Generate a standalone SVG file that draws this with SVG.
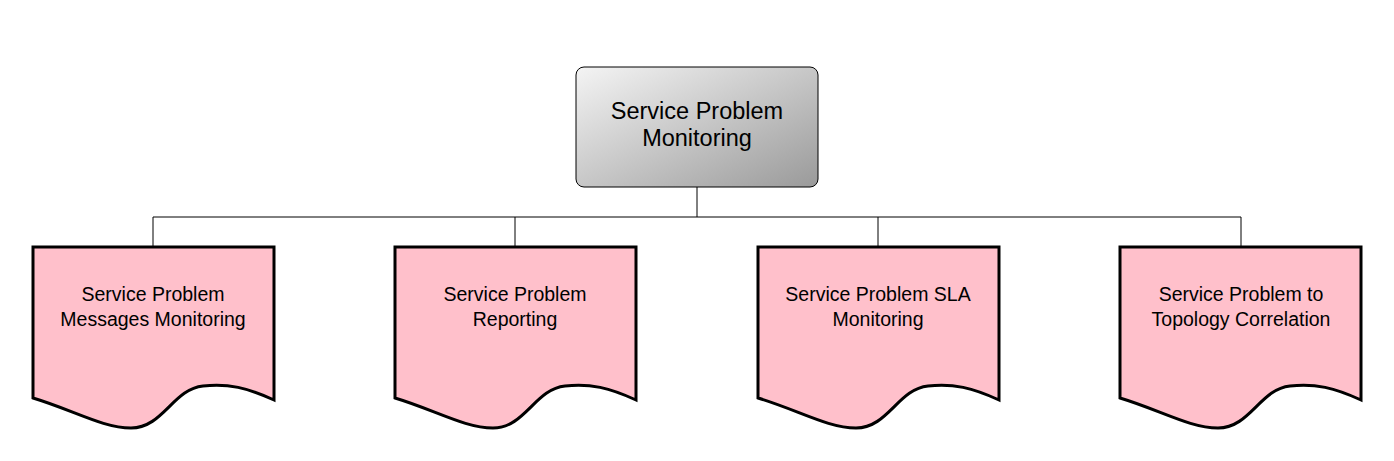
<svg xmlns="http://www.w3.org/2000/svg" width="1394" height="461" viewBox="0 0 1394 461">
<defs>
<linearGradient id="g" x1="0" y1="0" x2="1" y2="1">
<stop offset="0" stop-color="#f4f4f4"/>
<stop offset="1" stop-color="#9a9a9a"/>
</linearGradient>
<path id="doc" d="M0,0 H241 V153 C215,141 195,136 170,139 C140,142 130,181 98,181 C70,181 40,163 0,151 Z"/>
</defs>
<style>
.t{font-family:"Liberation Sans",Arial,sans-serif;fill:#000;text-anchor:middle}
.c{stroke:#000;stroke-width:1;fill:none}
.d{fill:#ffc0cb;stroke:#000;stroke-width:3;stroke-linejoin:miter}
</style>
<rect width="1394" height="461" fill="#fff"/>
<g id="connectors">
<path class="c" d="M697,187 V217 M153,217 H1241 M153,217 V247 M515,217 V247 M878,217 V247 M1241,217 V247"/>
</g>
<g id="root">
<rect x="576" y="67" width="242" height="120" rx="8" ry="8" fill="url(#g)" stroke="#000" stroke-width="1"/>
<text class="t" x="697" y="119" font-size="23.5">Service Problem</text>
<text class="t" x="697" y="146" font-size="23.5">Monitoring</text>
</g>
<g id="n1">
<use href="#doc" x="33" y="247" class="d"/>
<text class="t" x="153" y="301" font-size="19.5">Service Problem</text>
<text class="t" x="153" y="326" font-size="19.5">Messages Monitoring</text>
</g>
<g id="n2">
<use href="#doc" x="395" y="247" class="d"/>
<text class="t" x="515" y="301" font-size="19.5">Service Problem</text>
<text class="t" x="515" y="326" font-size="19.5">Reporting</text>
</g>
<g id="n3">
<use href="#doc" x="758" y="247" class="d"/>
<text class="t" x="878" y="301" font-size="19.5">Service Problem SLA</text>
<text class="t" x="878" y="326" font-size="19.5">Monitoring</text>
</g>
<g id="n4">
<use href="#doc" x="1120" y="247" class="d"/>
<text class="t" x="1241" y="301" font-size="19.5">Service Problem to</text>
<text class="t" x="1241" y="326" font-size="19.5">Topology Correlation</text>
</g>
</svg>
